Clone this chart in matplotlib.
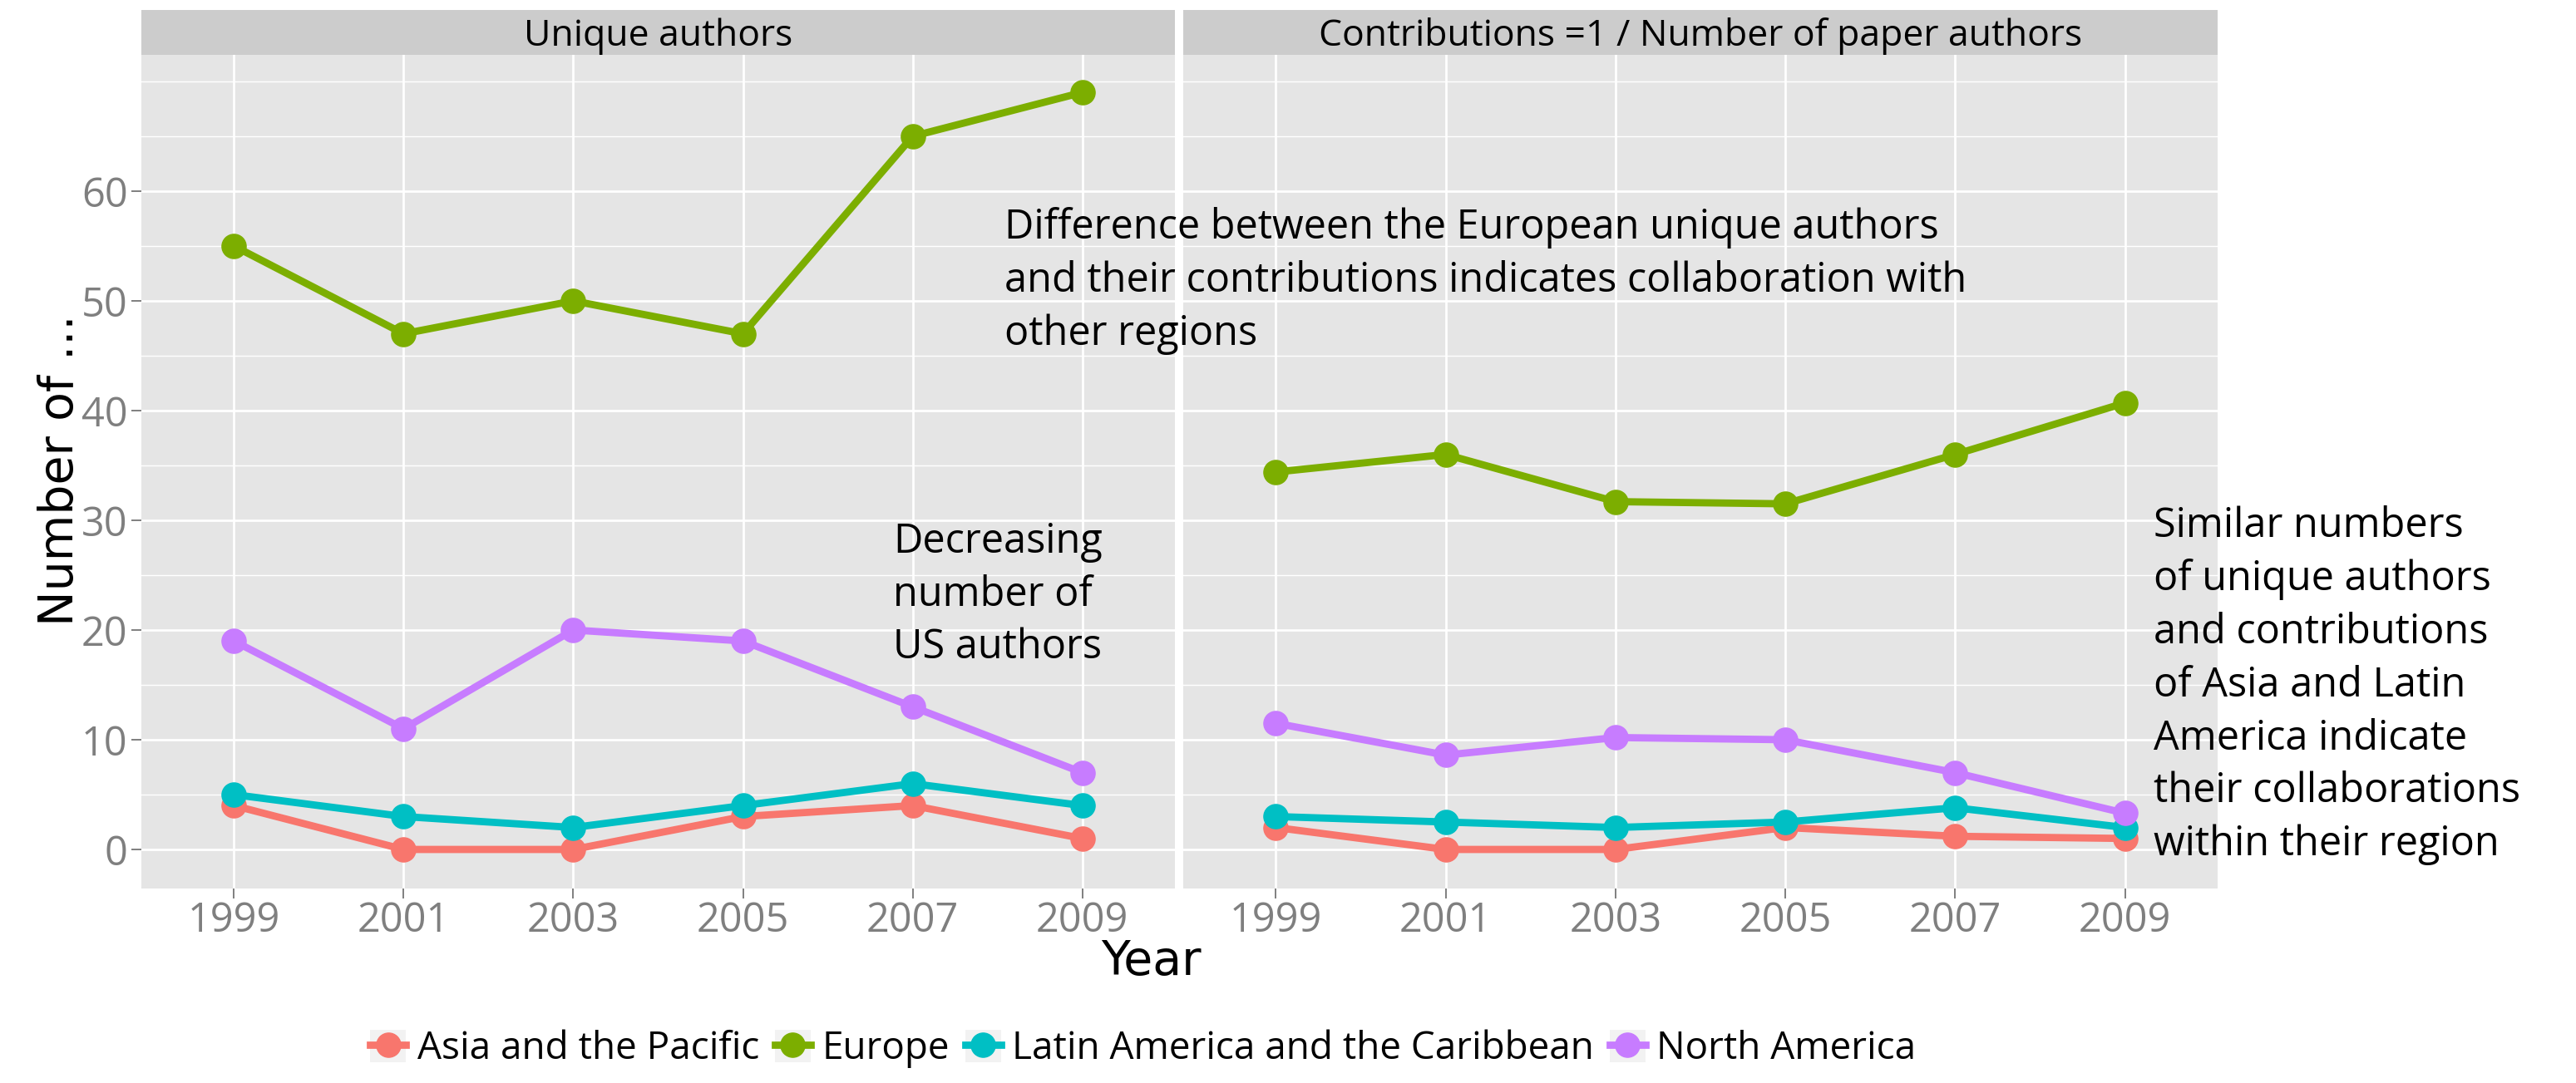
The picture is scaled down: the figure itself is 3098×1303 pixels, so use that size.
import matplotlib
matplotlib.use("Agg")
import matplotlib.pyplot as plt
from matplotlib.patches import Rectangle
from matplotlib.lines import Line2D
from matplotlib.legend_handler import HandlerTuple

plt.rcParams['font.family'] = ['Open Sans', 'DejaVu Sans']

years = [1999, 2001, 2003, 2005, 2007, 2009]
regions = ["Asia and the Pacific", "Europe", "Latin America and the Caribbean", "North America"]
colors = ["#F8766D", "#7CAE00", "#00BFC4", "#C77CFF"]

# panel 1: unique authors
unique_asia = [4, 0, 0, 3, 4, 1]
unique_europe = [55, 47, 50, 47, 65, 69]
unique_latam = [5, 3, 2, 4, 6, 4]
unique_namerica = [19, 11, 20, 19, 13, 7]

# panel 2: contributions (1 / number of paper authors)
contrib_asia = [2.0, 0.0, 0.0, 2.0, 1.2, 1.0]
contrib_europe = [34.4, 36.0, 31.7, 31.5, 36.0, 40.7]
contrib_latam = [3.0, 2.5, 2.0, 2.5, 3.8, 2.0]
contrib_namerica = [11.5, 8.6, 10.2, 10.0, 7.0, 3.3]

panel_titles = ["Unique authors", "Contributions =1 / Number of paper authors"]
y_major = [0, 10, 20, 30, 40, 50, 60]
y_minor = [5, 15, 25, 35, 45, 55, 65, 70]

W, H = 3098, 1303
fig = plt.figure(figsize=(W / 100, H / 100), dpi=100)

panels = [
    (170, 1413, [unique_asia, unique_europe, unique_latam, unique_namerica]),
    (1423, 2667, [contrib_asia, contrib_europe, contrib_latam, contrib_namerica]),
]
top, bottom, strip_top = 66, 1069, 12

axes = []
for i, (x0, x1, series) in enumerate(panels):
    ax = fig.add_axes([x0 / W, 1 - bottom / H, (x1 - x0) / W, (bottom - top) / H])
    ax.set_facecolor("#E5E5E5")
    for s in ax.spines.values():
        s.set_visible(False)
    ax.set_xlim(1997.91, 2010.09)
    ax.set_ylim(-3.56, 72.42)
    ax.set_xticks(years)
    ax.set_yticks(y_major)
    ax.set_yticks(y_minor, minor=True)
    ax.set_axisbelow(True)
    ax.grid(which="major", color="white", lw=1.95)
    ax.grid(which="minor", axis="y", color="white", lw=1.0)
    ax.tick_params(which="major", length=8.6, width=1.4, color="#7F7F7F",
                   labelcolor="#7F7F7F", labelsize=35)
    ax.tick_params(axis="x", pad=2)
    ax.tick_params(axis="y", pad=3.2)
    ax.tick_params(which="minor", length=0)
    if i == 1:
        ax.tick_params(axis="y", which="both", left=False, labelleft=False)

    for vals, c in zip(series, colors):
        ax.plot(years, vals, color=c, lw=6.3, zorder=2)
    for vals, c in zip(series, colors):
        ax.plot(years, vals, color=c, lw=0, marker="o", ms=21, zorder=3)

    sax = fig.add_axes([x0 / W, 1 - top / H, (x1 - x0) / W, (top - strip_top) / H])
    sax.set_facecolor("#CCCCCC")
    sax.set_xticks([])
    sax.set_yticks([])
    for s in sax.spines.values():
        s.set_visible(False)
    sax.text(0.5, (top - 55) / (top - strip_top), panel_titles[i], ha="center",
             va="baseline", fontsize=32, transform=sax.transAxes)
    axes.append(ax)

axL, axR = axes

# multi-line text: va="baseline" anchors the last line
fig.text(2008.08, 46.0,
         "Difference between the European unique authors\n"
         "and their contributions indicates collaboration with\n"
         "other regions",
         transform=axL.transData, ha="left", va="baseline", fontsize=35, linespacing=1.38)
fig.text(2006.77, 17.4, "Decreasing\nnumber of\nUS authors",
         transform=axL.transData, ha="left", va="baseline", fontsize=35, linespacing=1.38)
fig.text(2009.34, -0.53,
         "Similar numbers\nof unique authors\nand contributions\nof Asia and Latin\n"
         "America indicate\ntheir collaborations\nwithin their region",
         transform=axR.transData, ha="left", va="baseline", fontsize=35, linespacing=1.38)

fig.text(1384 / W, 1 - 1173 / H, "Year", ha="center", va="baseline",
         fontsize=41, family="DejaVu Sans")
fig.text(88 / W, 1 - 566 / H, "Number of ...", rotation=90, rotation_mode="anchor",
         ha="center", va="baseline", fontsize=41, family="DejaVu Sans")

handles = [
    (Rectangle((0, 0), 1, 1, facecolor="#F2F2F2", edgecolor="none"),
     Line2D([], [], color=c, lw=6.3, marker="o", ms=21))
    for c in colors
]
fig.legend(handles, regions, loc="center", bbox_to_anchor=(1375 / W, 1 - 1262 / H),
           ncol=4, frameon=False, handler_map={tuple: HandlerTuple(ndivide=1)},
           fontsize=33, handlelength=0.94, handleheight=0.94, handletextpad=0.3,
           columnspacing=0.4, numpoints=1, borderpad=0, borderaxespad=0)

fig.savefig("out.png", dpi=100, facecolor="white")
